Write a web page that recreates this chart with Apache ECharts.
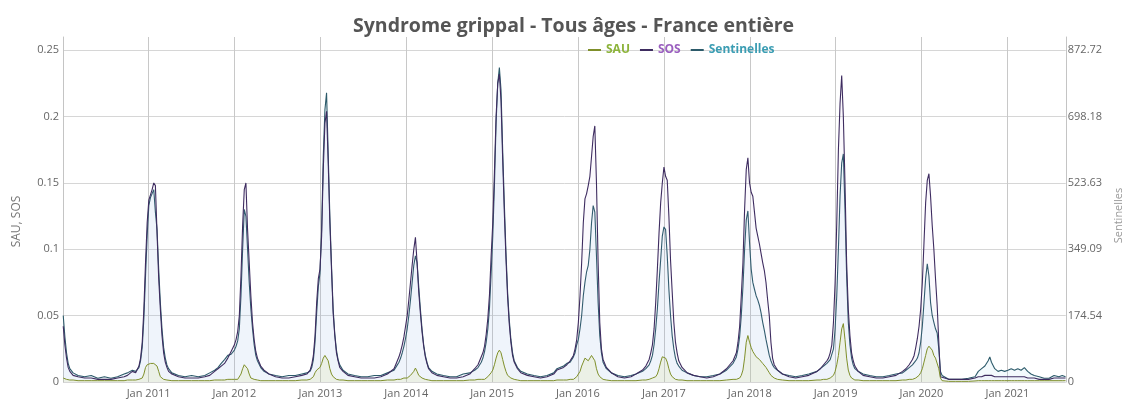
<!DOCTYPE html>
<html><head><meta charset="utf-8">
<script src="https://cdn.jsdelivr.net/npm/echarts@6/dist/echarts.min.js"></script>
<style>html,body{margin:0;padding:0;background:#fff}#c{width:1132px;height:401px}</style>
</head><body><div id="c"></div>
<script>
// Weekly / monthly sample dates (shared by all three series)
const dates = [
'2010-01-03','2010-01-10','2010-01-17','2010-01-24','2010-01-31','2010-02-14','2010-03-07','2010-04-04','2010-05-02','2010-05-30','2010-06-27','2010-07-25','2010-08-22','2010-09-19','2010-10-03','2010-10-24','2010-11-07','2010-11-21','2010-11-28','2010-12-05','2010-12-12','2010-12-19','2010-12-26',
'2011-01-02','2011-01-09','2011-01-16','2011-01-23','2011-01-30','2011-02-06','2011-02-13','2011-02-20','2011-02-27','2011-03-06','2011-03-13','2011-03-20','2011-03-27','2011-04-10','2011-05-08','2011-06-05','2011-07-03','2011-07-31','2011-08-28','2011-09-18','2011-10-09','2011-10-23','2011-11-06','2011-11-20','2011-12-04','2011-12-18',
'2012-01-01','2012-01-08','2012-01-15','2012-01-22','2012-01-29','2012-02-05','2012-02-12','2012-02-19','2012-02-26','2012-03-04','2012-03-11','2012-03-18','2012-03-25','2012-04-01','2012-04-08','2012-04-22','2012-05-06','2012-05-27','2012-06-24','2012-07-22','2012-08-19','2012-09-16','2012-10-14','2012-11-04','2012-11-18','2012-11-25','2012-12-02','2012-12-09','2012-12-16','2012-12-23','2012-12-30',
'2013-01-06','2013-01-13','2013-01-20','2013-01-27','2013-02-03','2013-02-10','2013-02-17','2013-02-24','2013-03-03','2013-03-10','2013-03-17','2013-03-24','2013-04-07','2013-04-28','2013-05-26','2013-06-23','2013-07-21','2013-08-18','2013-09-15','2013-10-13','2013-11-10','2013-11-24','2013-12-01','2013-12-08','2013-12-15','2013-12-22','2013-12-29',
'2014-01-05','2014-01-12','2014-01-19','2014-01-26','2014-02-02','2014-02-09','2014-02-16','2014-02-23','2014-03-02','2014-03-09','2014-03-16','2014-03-23','2014-03-30','2014-04-06','2014-04-20','2014-05-11','2014-06-08','2014-07-06','2014-08-03','2014-08-31','2014-09-28','2014-10-19','2014-11-02','2014-11-16','2014-11-23','2014-11-30','2014-12-07','2014-12-14','2014-12-21','2014-12-28',
'2015-01-04','2015-01-11','2015-01-18','2015-01-25','2015-02-01','2015-02-08','2015-02-15','2015-02-22','2015-03-01','2015-03-08','2015-03-15','2015-03-22','2015-03-29','2015-04-05','2015-04-19','2015-05-03','2015-05-31','2015-06-28','2015-07-26','2015-08-23','2015-09-20','2015-10-04','2015-11-01','2015-11-15','2015-11-29','2015-12-13','2015-12-20','2015-12-27',
'2016-01-03','2016-01-10','2016-01-17','2016-01-24','2016-01-31','2016-02-07','2016-02-14','2016-02-21','2016-02-28','2016-03-06','2016-03-13','2016-03-20','2016-03-27','2016-04-03','2016-04-10','2016-04-17','2016-05-01','2016-05-22','2016-06-19','2016-07-17','2016-08-14','2016-09-04','2016-10-02','2016-10-16','2016-10-30','2016-11-06','2016-11-13','2016-11-20','2016-11-27','2016-12-04','2016-12-11','2016-12-18','2016-12-25',
'2017-01-01','2017-01-08','2017-01-15','2017-01-22','2017-01-29','2017-02-05','2017-02-12','2017-02-19','2017-02-26','2017-03-05','2017-03-19','2017-04-09','2017-05-07','2017-06-04','2017-07-02','2017-07-30','2017-08-27','2017-09-24','2017-10-22','2017-11-05','2017-11-12','2017-11-19','2017-11-26','2017-12-03','2017-12-10','2017-12-17','2017-12-24','2017-12-31',
'2018-01-07','2018-01-14','2018-01-21','2018-01-28','2018-02-04','2018-02-11','2018-02-18','2018-02-25','2018-03-04','2018-03-11','2018-03-18','2018-03-25','2018-04-01','2018-04-08','2018-04-15','2018-04-29','2018-05-20','2018-06-17','2018-07-15','2018-08-12','2018-09-09','2018-10-14','2018-10-28','2018-11-11','2018-11-25','2018-12-02','2018-12-09','2018-12-16','2018-12-23','2018-12-30',
'2019-01-06','2019-01-13','2019-01-20','2019-01-27','2019-02-03','2019-02-10','2019-02-17','2019-02-24','2019-03-03','2019-03-10','2019-03-17','2019-03-24','2019-04-07','2019-04-28','2019-05-26','2019-06-23','2019-07-21','2019-08-18','2019-09-15','2019-10-13','2019-10-27','2019-11-10','2019-11-24','2019-12-01','2019-12-08','2019-12-15','2019-12-22','2019-12-29',
'2020-01-05','2020-01-12','2020-01-19','2020-01-26','2020-02-02','2020-02-09','2020-02-16','2020-02-23','2020-03-01','2020-03-08','2020-03-15','2020-03-22','2020-03-29','2020-04-26','2020-05-24','2020-06-21','2020-07-19','2020-08-16','2020-08-30','2020-09-13','2020-09-27','2020-10-11','2020-10-18','2020-10-25','2020-11-08','2020-11-22','2020-12-06','2020-12-20',
'2021-01-03','2021-01-17','2021-01-31','2021-02-14','2021-02-28','2021-03-14','2021-03-28','2021-04-11','2021-04-25','2021-05-16','2021-06-06','2021-06-27','2021-07-18','2021-07-25','2021-08-08','2021-08-22','2021-09-05'
];

// SAU (left axis)
const sau = [
0.003,0.003,0.002,0.002,0.0015,0.0015,0.001,0.001,0.001,0.001,0.001,0.001,0.001,0.001,0.0015,0.0015,0.0015,0.002,0.002,0.003,0.006,0.011,0.013,
0.014,0.014,0.015,0.014,0.013,0.012,0.008,0.004,0.003,0.002,0.002,0.0015,0.0015,0.001,0.001,0.001,0.001,0.001,0.001,0.001,0.0015,0.0015,0.0015,0.0015,0.002,0.002,
0.002,0.002,0.002,0.003,0.006,0.010,0.013,0.014,0.010,0.006,0.003,0.002,0.002,0.0015,0.0015,0.001,0.001,0.001,0.001,0.001,0.001,0.001,0.0015,0.0015,0.002,0.003,0.004,0.007,0.009,0.010,0.011,
0.014,0.018,0.020,0.020,0.016,0.010,0.006,0.004,0.003,0.002,0.002,0.0015,0.0015,0.001,0.001,0.001,0.001,0.001,0.001,0.0015,0.0015,0.002,0.002,0.002,0.002,0.003,0.003,
0.003,0.004,0.005,0.006,0.008,0.0105,0.008,0.005,0.004,0.003,0.002,0.002,0.0015,0.0015,0.001,0.001,0.001,0.001,0.001,0.001,0.0015,0.0015,0.002,0.002,0.002,0.002,0.003,0.004,0.005,0.007,
0.009,0.013,0.018,0.022,0.024,0.022,0.017,0.012,0.008,0.005,0.004,0.003,0.002,0.002,0.0015,0.001,0.001,0.001,0.001,0.001,0.001,0.0015,0.0015,0.0015,0.002,0.002,0.003,0.004,
0.005,0.008,0.012,0.015,0.018,0.017,0.016,0.018,0.020,0.019,0.016,0.010,0.006,0.004,0.003,0.002,0.0015,0.001,0.001,0.001,0.001,0.001,0.0015,0.0015,0.002,0.002,0.003,0.003,0.004,0.006,0.010,0.015,0.019,
0.020,0.018,0.015,0.010,0.006,0.004,0.003,0.002,0.002,0.0015,0.0015,0.001,0.001,0.001,0.001,0.001,0.001,0.0015,0.002,0.002,0.002,0.003,0.005,0.009,0.018,0.030,0.035,0.030,
0.026,0.023,0.021,0.019,0.018,0.017,0.016,0.014,0.013,0.011,0.009,0.007,0.005,0.004,0.003,0.002,0.0015,0.001,0.001,0.001,0.001,0.0015,0.0015,0.002,0.002,0.002,0.003,0.003,0.005,0.008,
0.013,0.020,0.030,0.040,0.044,0.032,0.018,0.009,0.005,0.003,0.002,0.0015,0.0015,0.001,0.001,0.001,0.001,0.001,0.001,0.0015,0.0015,0.002,0.002,0.003,0.003,0.004,0.005,0.007,
0.010,0.015,0.020,0.025,0.027,0.026,0.024,0.020,0.018,0.018,0.010,0.003,0.001,0.0005,0.0005,0.0005,0.0005,0.0008,0.001,0.001,0.001,0.001,0.0015,0.001,0.001,0.001,0.001,0.001,
0.001,0.001,0.001,0.001,0.001,0.001,0.001,0.001,0.001,0.001,0.001,0.001,0.001,0.001,0.001,0.001,0.001
];

// SOS (left axis)
const sos = [
0.042,0.028,0.018,0.011,0.008,0.005,0.004,0.003,0.003,0.002,0.002,0.002,0.003,0.004,0.005,0.008,0.007,0.012,0.018,0.030,0.055,0.090,0.120,
0.137,0.141,0.145,0.150,0.148,0.112,0.078,0.055,0.035,0.022,0.015,0.011,0.008,0.006,0.004,0.003,0.003,0.003,0.004,0.005,0.008,0.010,0.012,0.014,0.018,0.023,
0.028,0.032,0.038,0.050,0.080,0.118,0.145,0.150,0.115,0.090,0.065,0.045,0.032,0.023,0.018,0.012,0.009,0.006,0.004,0.003,0.003,0.004,0.005,0.006,0.009,0.013,0.020,0.035,0.060,0.078,0.085,
0.110,0.160,0.195,0.204,0.165,0.120,0.085,0.052,0.035,0.022,0.016,0.011,0.008,0.005,0.004,0.003,0.003,0.003,0.004,0.006,0.010,0.016,0.019,0.023,0.028,0.034,0.042,
0.050,0.062,0.075,0.088,0.100,0.109,0.090,0.068,0.052,0.038,0.027,0.019,0.014,0.010,0.007,0.005,0.004,0.003,0.003,0.004,0.006,0.010,0.013,0.019,0.022,0.027,0.036,0.048,0.066,0.095,
0.120,0.158,0.200,0.225,0.232,0.212,0.168,0.128,0.093,0.064,0.044,0.030,0.020,0.015,0.010,0.007,0.005,0.004,0.003,0.004,0.006,0.009,0.011,0.013,0.016,0.020,0.025,0.032,
0.045,0.065,0.090,0.120,0.138,0.142,0.148,0.155,0.170,0.185,0.193,0.150,0.090,0.045,0.025,0.017,0.011,0.007,0.004,0.003,0.004,0.006,0.009,0.012,0.017,0.022,0.028,0.040,0.060,0.085,0.112,0.135,0.150,
0.162,0.155,0.152,0.125,0.092,0.068,0.045,0.030,0.022,0.016,0.011,0.007,0.005,0.004,0.003,0.004,0.006,0.010,0.016,0.022,0.030,0.042,0.065,0.090,0.130,0.160,0.169,0.150,
0.143,0.140,0.128,0.116,0.110,0.104,0.097,0.090,0.084,0.075,0.062,0.050,0.030,0.018,0.013,0.009,0.006,0.004,0.003,0.004,0.005,0.008,0.010,0.013,0.016,0.018,0.022,0.028,0.045,0.075,
0.120,0.175,0.210,0.231,0.200,0.150,0.090,0.055,0.035,0.022,0.016,0.012,0.008,0.005,0.004,0.003,0.003,0.004,0.005,0.008,0.010,0.013,0.017,0.020,0.026,0.033,0.042,0.055,
0.075,0.105,0.135,0.152,0.157,0.140,0.118,0.100,0.078,0.058,0.030,0.004,0.003,0.002,0.002,0.002,0.002,0.003,0.004,0.004,0.005,0.005,0.006,0.005,0.004,0.004,0.004,0.004,
0.004,0.004,0.004,0.004,0.004,0.004,0.003,0.003,0.003,0.002,0.002,0.002,0.003,0.003,0.003,0.003,0.003
];

// Sentinelles (right axis, incidence)
const sentinelles = [
175,119,77,49,35,24,17,14,17,10,14,10,14,21,24,31,28,38,56,91,168,279,384,
464,485,489,506,447,401,297,209,140,91,63,45,35,24,17,14,17,14,17,24,31,38,49,59,70,73,
84,94,108,140,227,349,454,436,349,262,192,140,98,70,56,38,28,21,17,14,17,17,21,24,28,38,59,105,182,251,286,
401,593,716,761,600,436,307,192,126,84,59,45,31,21,17,14,14,17,17,24,31,45,52,63,77,94,115,
140,175,216,262,307,332,314,251,192,140,98,70,52,38,28,21,17,14,14,21,24,31,38,52,63,80,105,140,195,286,
384,517,681,785,827,768,611,471,342,237,164,112,77,56,38,28,21,17,14,17,24,35,42,49,52,66,77,98,
112,140,175,227,262,290,307,349,419,464,447,332,209,122,77,52,35,24,17,14,17,21,28,35,45,56,70,98,140,192,262,321,384,
408,401,332,244,175,122,87,63,49,42,31,24,17,14,14,17,21,31,49,66,87,119,175,251,349,426,450,367,
297,262,244,227,216,202,182,157,136,112,91,70,56,45,38,31,21,17,14,17,21,28,35,42,49,52,59,63,87,140,
227,349,489,576,600,454,279,157,98,63,45,35,28,21,17,14,14,17,21,24,31,38,45,49,56,63,77,105,
147,209,272,311,279,209,175,157,140,129,87,28,17,7,7,7,10,14,28,35,42,56,66,52,35,28,31,28,
31,35,31,35,31,38,28,21,17,14,10,10,17,21,14,17,14
];

const leftTicksMax = 0.25;
const rightTicksMax = 872.72;

const chart = echarts.init(document.getElementById('c'));
const pair = arr => dates.map((d, i) => [d, arr[i]]);
const FONT = 'Open Sans';

chart.setOption({
  animation: false,
  backgroundColor: '#ffffff',
  title: {
    text: 'Syndrome grippal - Tous âges - France entière',
    left: 348, top: 11,
    textStyle: { fontFamily: FONT, fontSize: 19.5, fontWeight: 'bold', color: '#555' }
  },
  legend: {
    left: 583, top: 39, icon: 'rect', itemWidth: 13, itemHeight: 2, itemGap: 10,
    textStyle: { fontFamily: FONT, fontSize: 12, fontWeight: 'bold' },
    data: [
      { name: 'SAU', textStyle: { color: '#8cb33a' } },
      { name: 'SOS', textStyle: { color: '#9a5fbf' } },
      { name: 'Sentinelles', textStyle: { color: '#3b9db3' } }
    ]
  },
  grid: { left: 63, right: 50, top: 37, bottom: 19 },
  xAxis: {
    type: 'time', min: '2010-01-02', max: '2021-09-06',
    minInterval: 365 * 86400000, maxInterval: 366 * 86400000,
    axisLine: { show: false }, axisTick: { show: false },
    axisLabel: {
      color: '#666', fontSize: 11, fontFamily: FONT, margin: 6,
      showMinLabel: false, showMaxLabel: false,
      formatter: v => 'Jan ' + new Date(v).getFullYear()
    },
    splitLine: { show: true, lineStyle: { color: '#c8c8c8', width: 1 } }
  },
  yAxis: [
    {
      type: 'value', min: 0, max: 0.26, interval: 0.05, position: 'left',
      name: 'SAU, SOS', nameLocation: 'middle', nameGap: 40,
      nameTextStyle: { color: '#777', fontSize: 12, fontFamily: FONT, padding: [0, 24, 0, 0] },
      axisLine: { show: true, lineStyle: { color: '#c4c4c4' } }, axisTick: { show: false },
      axisLabel: { color: '#666', fontSize: 11, fontFamily: FONT, margin: 4, showMaxLabel: false,
        formatter: v => v > leftTicksMax + 1e-6 ? '' : String(Math.round(v * 100) / 100) },
      splitLine: { show: true, showMaxLine: false, lineStyle: { color: '#d6d6d6' } }
    },
    {
      type: 'value', min: 0, max: 907.63, interval: 174.544, position: 'right',
      name: 'Sentinelles', nameLocation: 'middle', nameGap: 34,
      nameTextStyle: { color: '#999', fontSize: 11, fontFamily: FONT, padding: [0, 12, 0, 0] },
      axisLine: { show: true, lineStyle: { color: '#c4c4c4' } }, axisTick: { show: false },
      axisLabel: { color: '#666', fontSize: 11, fontFamily: FONT, margin: 2, showMaxLabel: false,
        formatter: v => v > rightTicksMax + 0.01 ? '' : (v === 0 ? '0' : v.toFixed(2)) },
      splitLine: { show: false }
    }
  ],
  series: [
    { name: 'SAU', type: 'line', yAxisIndex: 0, data: pair(sau), showSymbol: false, color: '#7f8f2a',
      lineStyle: { width: 1 }, areaStyle: { color: 'rgba(215,225,120,0.22)' }, z: 4 },
    { name: 'SOS', type: 'line', yAxisIndex: 0, data: pair(sos), showSymbol: false, color: '#3e2c60',
      lineStyle: { width: 1.1 }, areaStyle: { color: 'rgba(180,140,220,0.07)' }, z: 3 },
    { name: 'Sentinelles', type: 'line', yAxisIndex: 1, data: pair(sentinelles), showSymbol: false, color: '#2c5a6a',
      lineStyle: { width: 1.1 }, areaStyle: { color: 'rgba(120,200,230,0.13)' }, z: 2 }
  ]
});
</script>
</body></html>
